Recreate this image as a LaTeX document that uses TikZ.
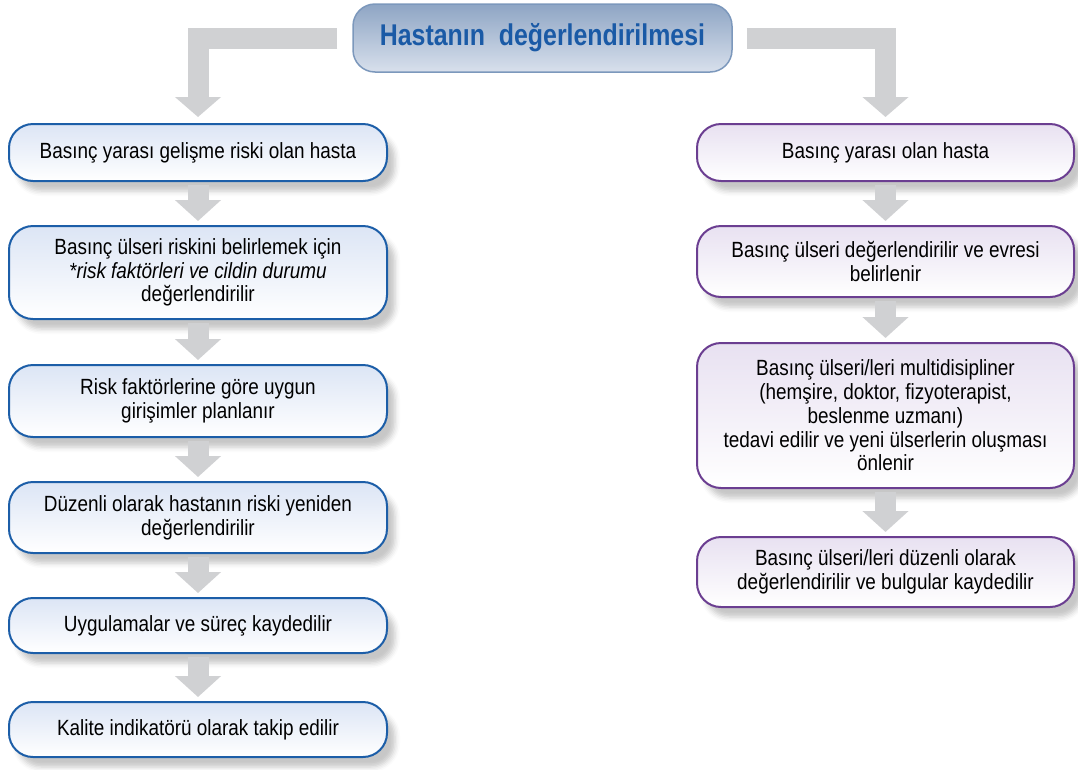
\documentclass[tikz,border=0pt]{standalone}
\usepackage{fontspec}
\setmainfont{Liberation Sans}[FakeStretch=0.86]
\newfontfamily\titlefont{Liberation Sans}[FakeStretch=0.83]
\usetikzlibrary{arrows.meta,shadows.blur}
\definecolor{lblue}{HTML}{1C5EA8}
\definecolor{lpurple}{HTML}{6B3E91}
\definecolor{lbluefill}{HTML}{DCE5F5}
\definecolor{lpurplefill}{HTML}{E8E1F1}
\definecolor{arrgray}{HTML}{D0D1D3}
\definecolor{titletop}{HTML}{8EA5C4}
\definecolor{titlebot}{HTML}{D8E0EC}
\definecolor{titleborder}{HTML}{7C98BC}
\definecolor{titletext}{HTML}{1A5AA6}
\tikzset{
  boxbase/.style={rounded corners=24pt, line width=2pt, align=center, inner sep=4pt,
    font=\fontsize{22}{23.7}\selectfont,
    blur shadow={shadow xshift=8pt, shadow yshift=-10pt, shadow blur radius=5pt, shadow opacity=22}},
  lbox/.style={boxbase, draw=lblue, top color=lbluefill, bottom color=white, minimum width=378pt},
  rbox/.style={boxbase, draw=lpurple, top color=lpurplefill, bottom color=white, minimum width=377pt},
  titlebox/.style={rounded corners=22pt, line width=1.5pt, draw=titleborder, top color=titletop,
    bottom color=titlebot, minimum width=379pt, minimum height=68pt,
    text=titletext, font=\titlefont\fontsize{30}{32}\selectfont\bfseries},
  fatarrow/.style={draw=arrgray, line width=21pt, -{Triangle[length=21pt, width=45pt]}, arrgray},
  elbowarrow/.style={draw=arrgray, line width=21pt, line join=miter, -{Triangle[length=20pt, width=45pt]}, arrgray}
}
\begin{document}
\begin{tikzpicture}[x=1pt, y=-1pt]
\useasboundingbox (0,0) rectangle (1078,769);
\node[titlebox] (T) at (542.5,38) {Hastanın\ \ değerlendirilmesi};

\node[lbox, minimum height=57pt] (L1) at (198,152.5) {Basınç yarası gelişme riski olan hasta};
\node[lbox, minimum height=93pt] (L2) at (198,272.5) {Basınç ülseri riskini belirlemek için\\\textit{*risk faktörleri ve cildin durumu}\\değerlendirilir};
\node[lbox, minimum height=72pt] (L3) at (198,401) {Risk faktörlerine göre uygun\\girişimler planlanır};
\node[lbox, minimum height=71pt] (L4) at (198,517.5) {Düzenli olarak hastanın riski yeniden\\değerlendirilir};
\node[lbox, minimum height=55pt] (L5) at (198,625.5) {Uygulamalar ve süreç kaydedilir};
\node[lbox, minimum height=55pt] (L6) at (198,729.5) {Kalite indikatörü olarak takip edilir};

\node[rbox, minimum height=57pt] (R1) at (885.5,152.5) {Basınç yarası olan hasta};
\node[rbox, minimum height=71pt] (R2) at (885.5,261.5) {Basınç ülseri değerlendirilir ve evresi\\belirlenir};
\node[rbox, minimum height=145pt] (R3) at (885.5,415.5) {Basınç ülseri/leri multidisipliner\\(hemşire, doktor, fizyoterapist,\\beslenme uzmanı)\\tedavi edilir ve yeni ülserlerin oluşması\\önlenir};
\node[rbox, minimum height=70pt] (R4) at (885.5,572) {Basınç ülseri/leri düzenli olarak\\değerlendirilir ve bulgular kaydedilir};

\draw[elbowarrow, shorten <=15pt, shorten >=6pt] (T.west) -| (L1.north);
\draw[elbowarrow, shorten <=14pt, shorten >=6pt] (T.east) -| (R1.north);

\foreach \a/\b in {L1/L2, L2/L3, L3/L4, L4/L5, L5/L6, R1/R2, R2/R3, R3/R4}
  \draw[fatarrow, shorten <=3pt, shorten >=4pt] (\a.south) -- (\b.north);
\end{tikzpicture}
\end{document}
